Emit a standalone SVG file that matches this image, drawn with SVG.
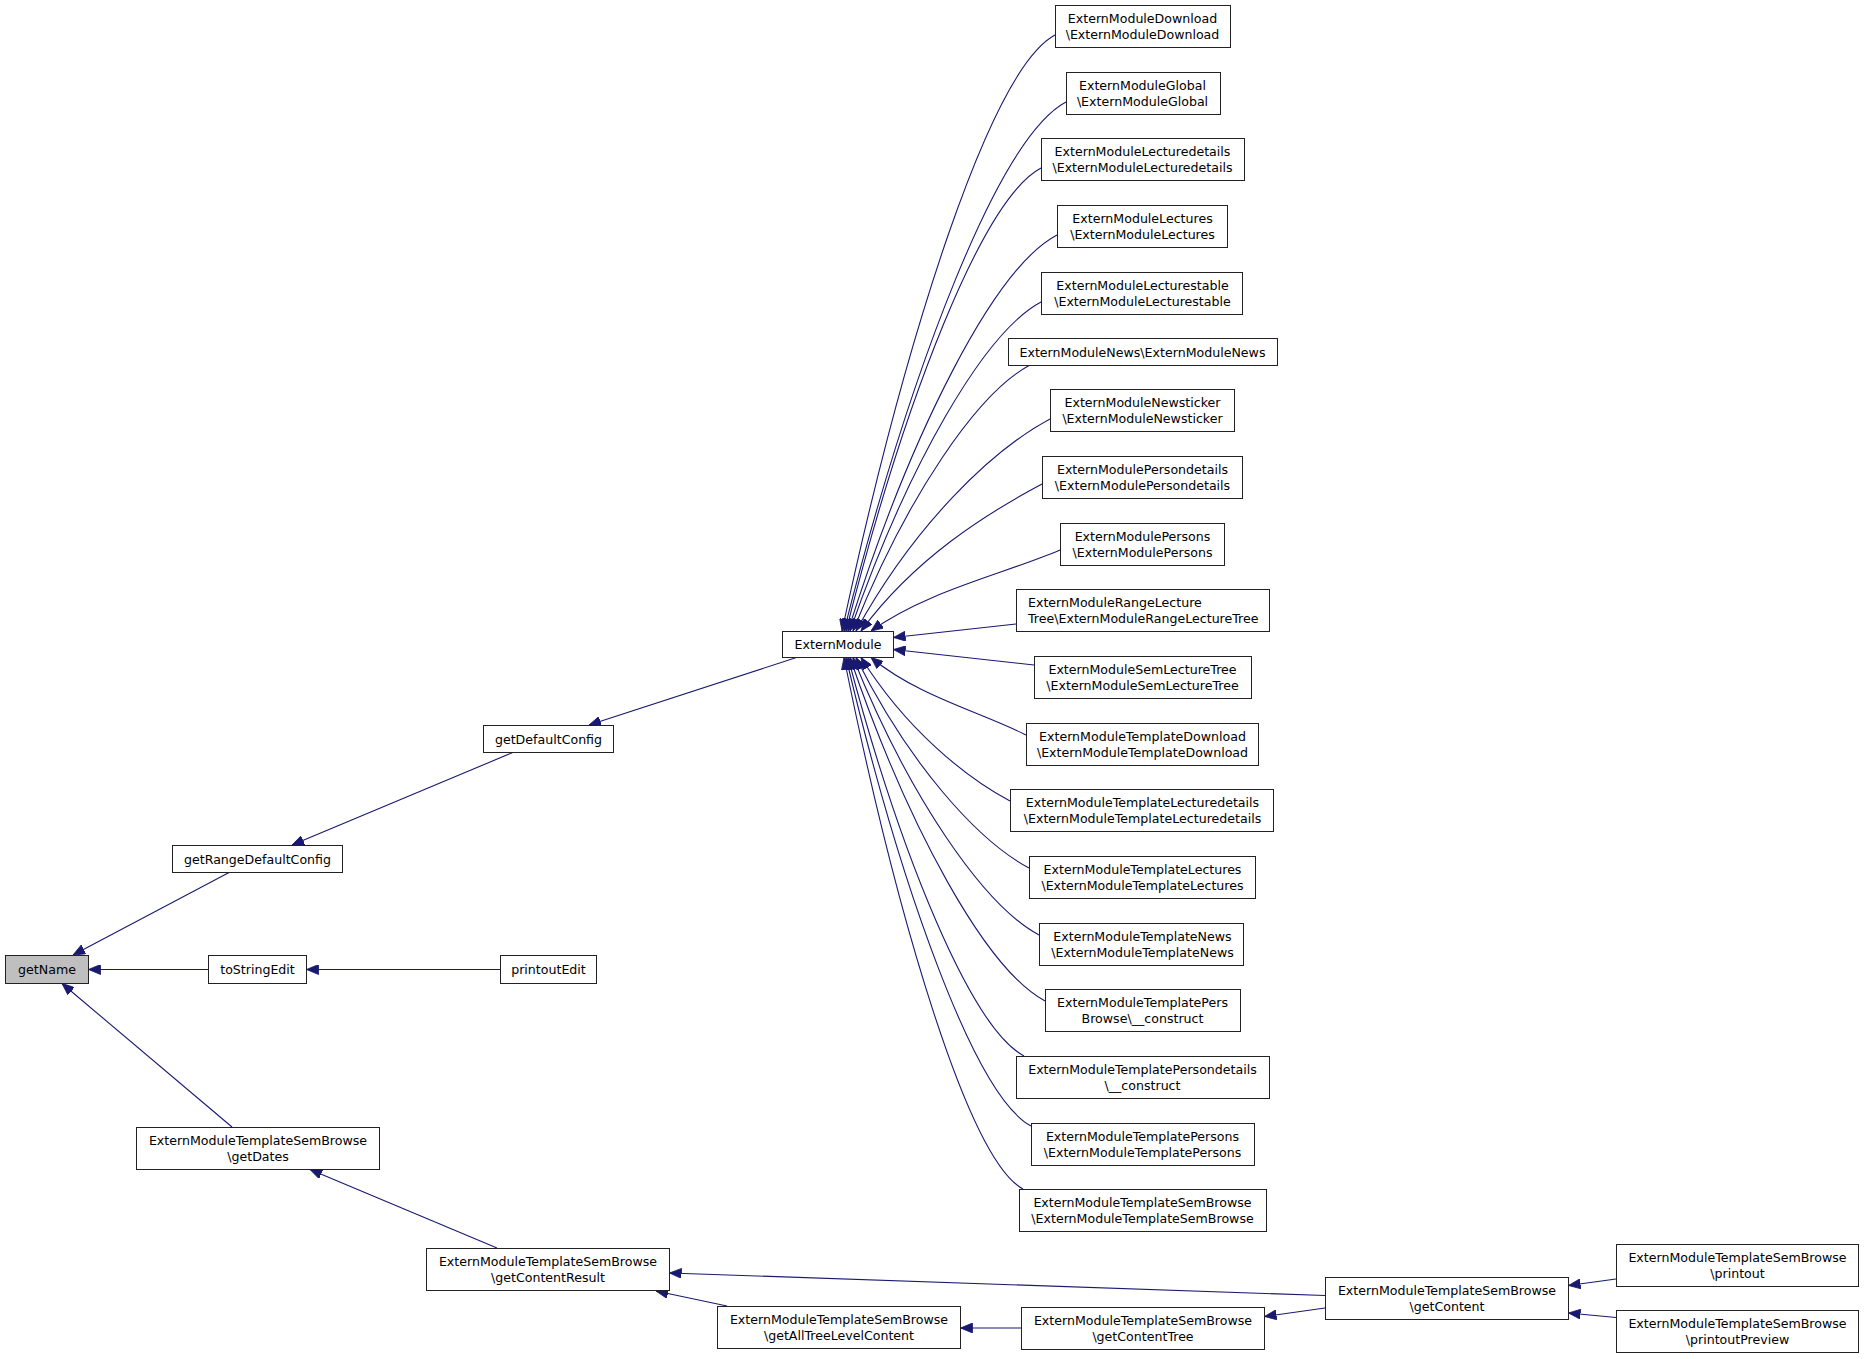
<svg xmlns="http://www.w3.org/2000/svg" width="1864" height="1359" viewBox="0 0 1864 1359">
<style>
.n rect{fill:#fff;stroke:#222;stroke-width:1}
.n.hl rect{fill:#bfbfbf}
.n text{font-family:"DejaVu Sans","Liberation Sans",sans-serif;font-size:12.6px;fill:#000;text-anchor:middle}
.n text.l{text-anchor:start}
.e path{fill:none;stroke:#191970;stroke-width:1.1;marker-end:url(#ah)}
</style>
<defs>
<marker id="ah" viewBox="0 0 12 10" refX="12" refY="5" markerWidth="12" markerHeight="10" markerUnits="userSpaceOnUse" orient="auto"><path d="M0,0 L12,5 L0,10 z" fill="#191970" stroke="#191970" stroke-width="0.8"/></marker>
</defs>
<rect width="1864" height="1359" fill="#fff"/>
<g id="edges" class="e">
<path d="M230,872 L73,955"/>
<path d="M514,752 L292,845"/>
<path d="M798,657 L589,725"/>
<path d="M208,969.5 L88.5,969.5"/>
<path d="M500,969.5 L306.5,969.5"/>
<path d="M232,1127 L62,983.5"/>
<path d="M497,1248 L310,1169.5"/>
<path d="M1325,1295.5 L669.5,1273"/>
<path d="M727,1306 L656,1291"/>
<path d="M1021,1328 L960.5,1328"/>
<path d="M1325,1308 L1264.5,1316.5"/>
<path d="M1616,1279 L1568.5,1285.5"/>
<path d="M1616,1317.5 L1568.5,1313"/>
<path d="M1055,35 C991,69 906,333 842,631"/>
<path d="M1066,102 C999,137.5 911,366.5 844,631"/>
<path d="M1041,168 C982.5,199 904.5,399.5 846,631"/>
<path d="M1057,235 C994,268 910.7,433 848,631"/>
<path d="M1041,302 C983.7,332.6 907.3,466.5 850,631"/>
<path d="M1030,365 C977,393.3 906,498 853,631"/>
<path d="M1050,419 C991.8,450 914.2,525 856,631"/>
<path d="M1042,484 C987.7,513 915.3,557.5 861,631"/>
<path d="M1060,550 C1003.3,574.3 927.7,590.5 871,631"/>
<path d="M1016,624 L893.5,637.5"/>
<path d="M1034,665 L893.5,649.5"/>
<path d="M1026,735 C979.5,711.6 917.5,696 871,657.5"/>
<path d="M1010,801 C965.3,777.2 905.7,729 861,657.5"/>
<path d="M1029,868 C977.1,840.3 907.9,762.5 856,657.5"/>
<path d="M1039,935 C983.2,905.2 908.8,796 853,657.5"/>
<path d="M1045,1001 C986.5,969.8 908.5,829 850,657.5"/>
<path d="M1024,1056 C971.2,1027.8 900.8,856.5 848,657.5"/>
<path d="M1031,1126 C975.5,1096.4 901.5,891.5 846,657.5"/>
<path d="M1023,1189 C969.3,1160.4 897.7,923 844,657.5"/>
</g>
<g id="n_getName" class="n hl"><rect x="5.5" y="955.5" width="83" height="28"/><text x="47" y="973.8">getName</text></g>
<g id="n_getRangeDefaultConfig" class="n"><rect x="172.5" y="845.5" width="170" height="27"/><text x="257.5" y="863.5">getRangeDefaultConfig</text></g>
<g id="n_getDefaultConfig" class="n"><rect x="483.5" y="725.5" width="130" height="27"/><text x="548.5" y="743.5">getDefaultConfig</text></g>
<g id="n_toStringEdit" class="n"><rect x="208.5" y="955.5" width="98" height="28"/><text x="257.5" y="973.8">toStringEdit</text></g>
<g id="n_printoutEdit" class="n"><rect x="500.5" y="955.5" width="96" height="28"/><text x="548.5" y="973.8">printoutEdit</text></g>
<g id="n_getDates" class="n"><rect x="136.5" y="1127.5" width="243" height="42"/><text x="258" y="1145">ExternModuleTemplateSemBrowse</text><text x="258" y="1161">\getDates</text></g>
<g id="n_getContentResult" class="n"><rect x="426.5" y="1248.5" width="243" height="42"/><text x="548" y="1266">ExternModuleTemplateSemBrowse</text><text x="548" y="1282">\getContentResult</text></g>
<g id="n_getAllTreeLevelContent" class="n"><rect x="717.5" y="1306.5" width="243" height="42"/><text x="839" y="1324">ExternModuleTemplateSemBrowse</text><text x="839" y="1340">\getAllTreeLevelContent</text></g>
<g id="n_getContentTree" class="n"><rect x="1021.5" y="1307.5" width="243" height="42"/><text x="1143" y="1325">ExternModuleTemplateSemBrowse</text><text x="1143" y="1341">\getContentTree</text></g>
<g id="n_getContent" class="n"><rect x="1325.5" y="1277.5" width="243" height="42"/><text x="1447" y="1295">ExternModuleTemplateSemBrowse</text><text x="1447" y="1311">\getContent</text></g>
<g id="n_printout" class="n"><rect x="1616.5" y="1244.5" width="242" height="42"/><text x="1737.5" y="1262">ExternModuleTemplateSemBrowse</text><text x="1737.5" y="1278">\printout</text></g>
<g id="n_printoutPreview" class="n"><rect x="1616.5" y="1310.5" width="242" height="42"/><text x="1737.5" y="1328">ExternModuleTemplateSemBrowse</text><text x="1737.5" y="1344">\printoutPreview</text></g>
<g id="n_ExternModule" class="n"><rect x="782.5" y="631.5" width="111" height="26"/><text x="838" y="649">ExternModule</text></g>
<g id="n_Download" class="n"><rect x="1055.5" y="5.5" width="175" height="42"/><text x="1142.5" y="23">ExternModuleDownload</text><text x="1142.5" y="39">\ExternModuleDownload</text></g>
<g id="n_Global" class="n"><rect x="1066.5" y="72.5" width="154" height="42"/><text x="1142.5" y="90">ExternModuleGlobal</text><text x="1142.5" y="106">\ExternModuleGlobal</text></g>
<g id="n_Lecturedetails" class="n"><rect x="1041.5" y="138.5" width="203" height="42"/><text x="1142.5" y="156">ExternModuleLecturedetails</text><text x="1142.5" y="172">\ExternModuleLecturedetails</text></g>
<g id="n_Lectures" class="n"><rect x="1057.5" y="205.5" width="170" height="42"/><text x="1142.5" y="223">ExternModuleLectures</text><text x="1142.5" y="239">\ExternModuleLectures</text></g>
<g id="n_Lecturestable" class="n"><rect x="1041.5" y="272.5" width="201" height="42"/><text x="1142.5" y="290">ExternModuleLecturestable</text><text x="1142.5" y="306">\ExternModuleLecturestable</text></g>
<g id="n_News" class="n"><rect x="1008.5" y="338.5" width="269" height="27"/><text x="1142.5" y="356.5">ExternModuleNews\ExternModuleNews</text></g>
<g id="n_Newsticker" class="n"><rect x="1050.5" y="389.5" width="184" height="42"/><text x="1142.5" y="407">ExternModuleNewsticker</text><text x="1142.5" y="423">\ExternModuleNewsticker</text></g>
<g id="n_Persondetails" class="n"><rect x="1042.5" y="456.5" width="200" height="42"/><text x="1142.5" y="474">ExternModulePersondetails</text><text x="1142.5" y="490">\ExternModulePersondetails</text></g>
<g id="n_Persons" class="n"><rect x="1060.5" y="523.5" width="164" height="42"/><text x="1142.5" y="541">ExternModulePersons</text><text x="1142.5" y="557">\ExternModulePersons</text></g>
<g id="n_RangeLectureTree" class="n"><rect x="1016.5" y="589.5" width="253" height="42"/><text class="l" x="1028" y="607">ExternModuleRangeLecture</text><text class="l" x="1028" y="623">Tree\ExternModuleRangeLectureTree</text></g>
<g id="n_SemLectureTree" class="n"><rect x="1034.5" y="656.5" width="217" height="42"/><text x="1142.5" y="674">ExternModuleSemLectureTree</text><text x="1142.5" y="690">\ExternModuleSemLectureTree</text></g>
<g id="n_TemplateDownload" class="n"><rect x="1026.5" y="723.5" width="232" height="42"/><text x="1142.5" y="741">ExternModuleTemplateDownload</text><text x="1142.5" y="757">\ExternModuleTemplateDownload</text></g>
<g id="n_TemplateLecturedetails" class="n"><rect x="1010.5" y="789.5" width="263" height="42"/><text x="1142.5" y="807">ExternModuleTemplateLecturedetails</text><text x="1142.5" y="823">\ExternModuleTemplateLecturedetails</text></g>
<g id="n_TemplateLectures" class="n"><rect x="1029.5" y="856.5" width="226" height="42"/><text x="1142.5" y="874">ExternModuleTemplateLectures</text><text x="1142.5" y="890">\ExternModuleTemplateLectures</text></g>
<g id="n_TemplateNews" class="n"><rect x="1039.5" y="923.5" width="204" height="42"/><text x="1142.5" y="941">ExternModuleTemplateNews</text><text x="1142.5" y="957">\ExternModuleTemplateNews</text></g>
<g id="n_TemplatePersBrowse" class="n"><rect x="1045.5" y="989.5" width="195" height="42"/><text x="1142.5" y="1007">ExternModuleTemplatePers</text><text x="1142.5" y="1023">Browse\__construct</text></g>
<g id="n_TemplatePersondetails" class="n"><rect x="1016.5" y="1056.5" width="253" height="42"/><text x="1142.5" y="1074">ExternModuleTemplatePersondetails</text><text x="1142.5" y="1090">\__construct</text></g>
<g id="n_TemplatePersons" class="n"><rect x="1031.5" y="1123.5" width="223" height="42"/><text x="1142.5" y="1141">ExternModuleTemplatePersons</text><text x="1142.5" y="1157">\ExternModuleTemplatePersons</text></g>
<g id="n_TemplateSemBrowse" class="n"><rect x="1019.5" y="1189.5" width="247" height="42"/><text x="1142.5" y="1207">ExternModuleTemplateSemBrowse</text><text x="1142.5" y="1223">\ExternModuleTemplateSemBrowse</text></g>
</svg>
